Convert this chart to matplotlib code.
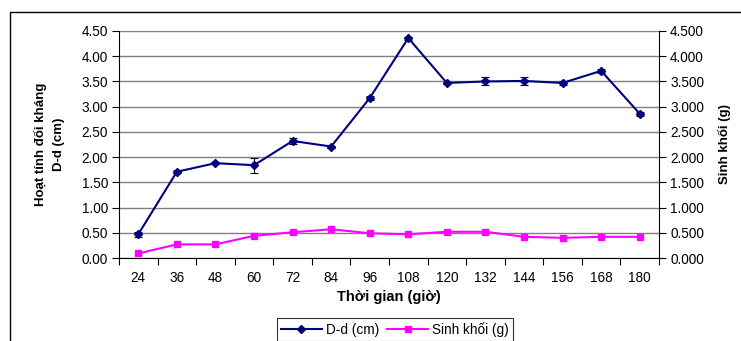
import numpy as np
import matplotlib.pyplot as plt
from matplotlib.patches import Rectangle
from matplotlib.lines import Line2D

plt.rcParams['font.family'] = ['Liberation Sans', 'DejaVu Sans']

hours = ['24', '36', '48', '60', '72', '84', '96', '108', '120', '132', '144', '156', '168', '180']
dd = [0.47, 1.71, 1.88, 1.84, 2.32, 2.21, 3.17, 4.36, 3.47, 3.50, 3.51, 3.47, 3.71, 2.86]
dd_err = [0.05, 0.03, 0.02, 0.15, 0.06, 0.02, 0.04, 0.03, 0.02, 0.08, 0.08, 0.04, 0.04, 0.04]
biomass = [0.09, 0.27, 0.27, 0.44, 0.51, 0.57, 0.49, 0.47, 0.52, 0.52, 0.42, 0.40, 0.42, 0.42]

W, H = 741, 341
fig = plt.figure(figsize=(W / 100, H / 100), dpi=100)

# outer chart border (right and bottom run off the image)
fig.patches.append(Rectangle((10 / W, -0.1), 1.2, 1 - 12 / H + 0.1, transform=fig.transFigure,
                             fill=False, edgecolor='black', linewidth=1))

ax = fig.add_axes([119 / W, 1 - 258 / H, 540 / W, 227 / H])
x = np.arange(len(hours))

ax.set_xlim(-0.5, len(hours) - 0.5)
ax.set_ylim(0, 4.5)
ax.set_yticks(np.arange(0, 4.51, 0.5))
ax.set_yticklabels([f'{v:.2f}' for v in np.arange(0, 4.51, 0.5)])
ax.set_xticks(x)
ax.set_xticklabels(hours)
ax.set_xticks(np.arange(-0.5, len(hours), 1), minor=True)
ax.tick_params(axis='x', which='major', length=0, pad=9, labelsize=9.8)
ax.tick_params(axis='x', which='minor', length=5, direction='out', width=0.8)
ax.tick_params(axis='y', length=5, direction='out', width=0.8, labelsize=9.8, pad=3)
ax.yaxis.grid(True, color='#808080', linewidth=1)
ax.set_axisbelow(True)
for s in ['top', 'right']:
    ax.spines[s].set_visible(False)
ax.spines['left'].set_linewidth(0.8)
ax.spines['bottom'].set_linewidth(0.8)

ax.errorbar(x, dd, yerr=dd_err, color='#000080', marker='D', markersize=4, linewidth=1.5,
            ecolor='black', elinewidth=0.8, capsize=3, capthick=0.8, zorder=4)

ax2 = ax.twinx()
ax2.set_ylim(0, 4.5)
ax2.set_yticks(np.arange(0, 4.51, 0.5))
ax2.set_yticklabels([f'{v:.3f}' for v in np.arange(0, 4.51, 0.5)])
ax2.tick_params(axis='y', length=5, direction='out', width=0.8, labelsize=9.8, pad=3)
for s in ['top', 'left', 'bottom']:
    ax2.spines[s].set_visible(False)
ax2.spines['right'].set_linewidth(0.8)
ax2.plot(x, biomass, color='#ff00ff', marker='s', markersize=4.5, linewidth=1.5, zorder=3)

ax.set_ylabel('Hoạt tính đối kháng\nD-d (cm)', fontsize=9.5, fontweight='bold', labelpad=12,
              linespacing=1.6)
ax2.set_ylabel('Sinh khối (g)', fontsize=9.5, fontweight='bold', labelpad=10)
ax.set_xlabel('Thời gian (giờ)', fontsize=10.5, fontweight='bold', labelpad=4)

h1 = Line2D([], [], color='#000080', marker='D', markersize=4, linewidth=1.5)
h2 = Line2D([], [], color='#ff00ff', marker='s', markersize=4.5, linewidth=1.5)
leg = fig.legend([h1, h2], ['D-d (cm)', 'Sinh khối (g)'], loc='upper center',
                 bbox_to_anchor=(395 / W, 1 - 318 / H), ncol=2, fontsize=9.8,
                 frameon=True, fancybox=False, edgecolor='black', borderaxespad=0,
                 handlelength=3, handletextpad=0.3, columnspacing=0.6, borderpad=0.3)
leg.get_frame().set_linewidth(0.8)

fig.savefig('out.png', dpi=100)
